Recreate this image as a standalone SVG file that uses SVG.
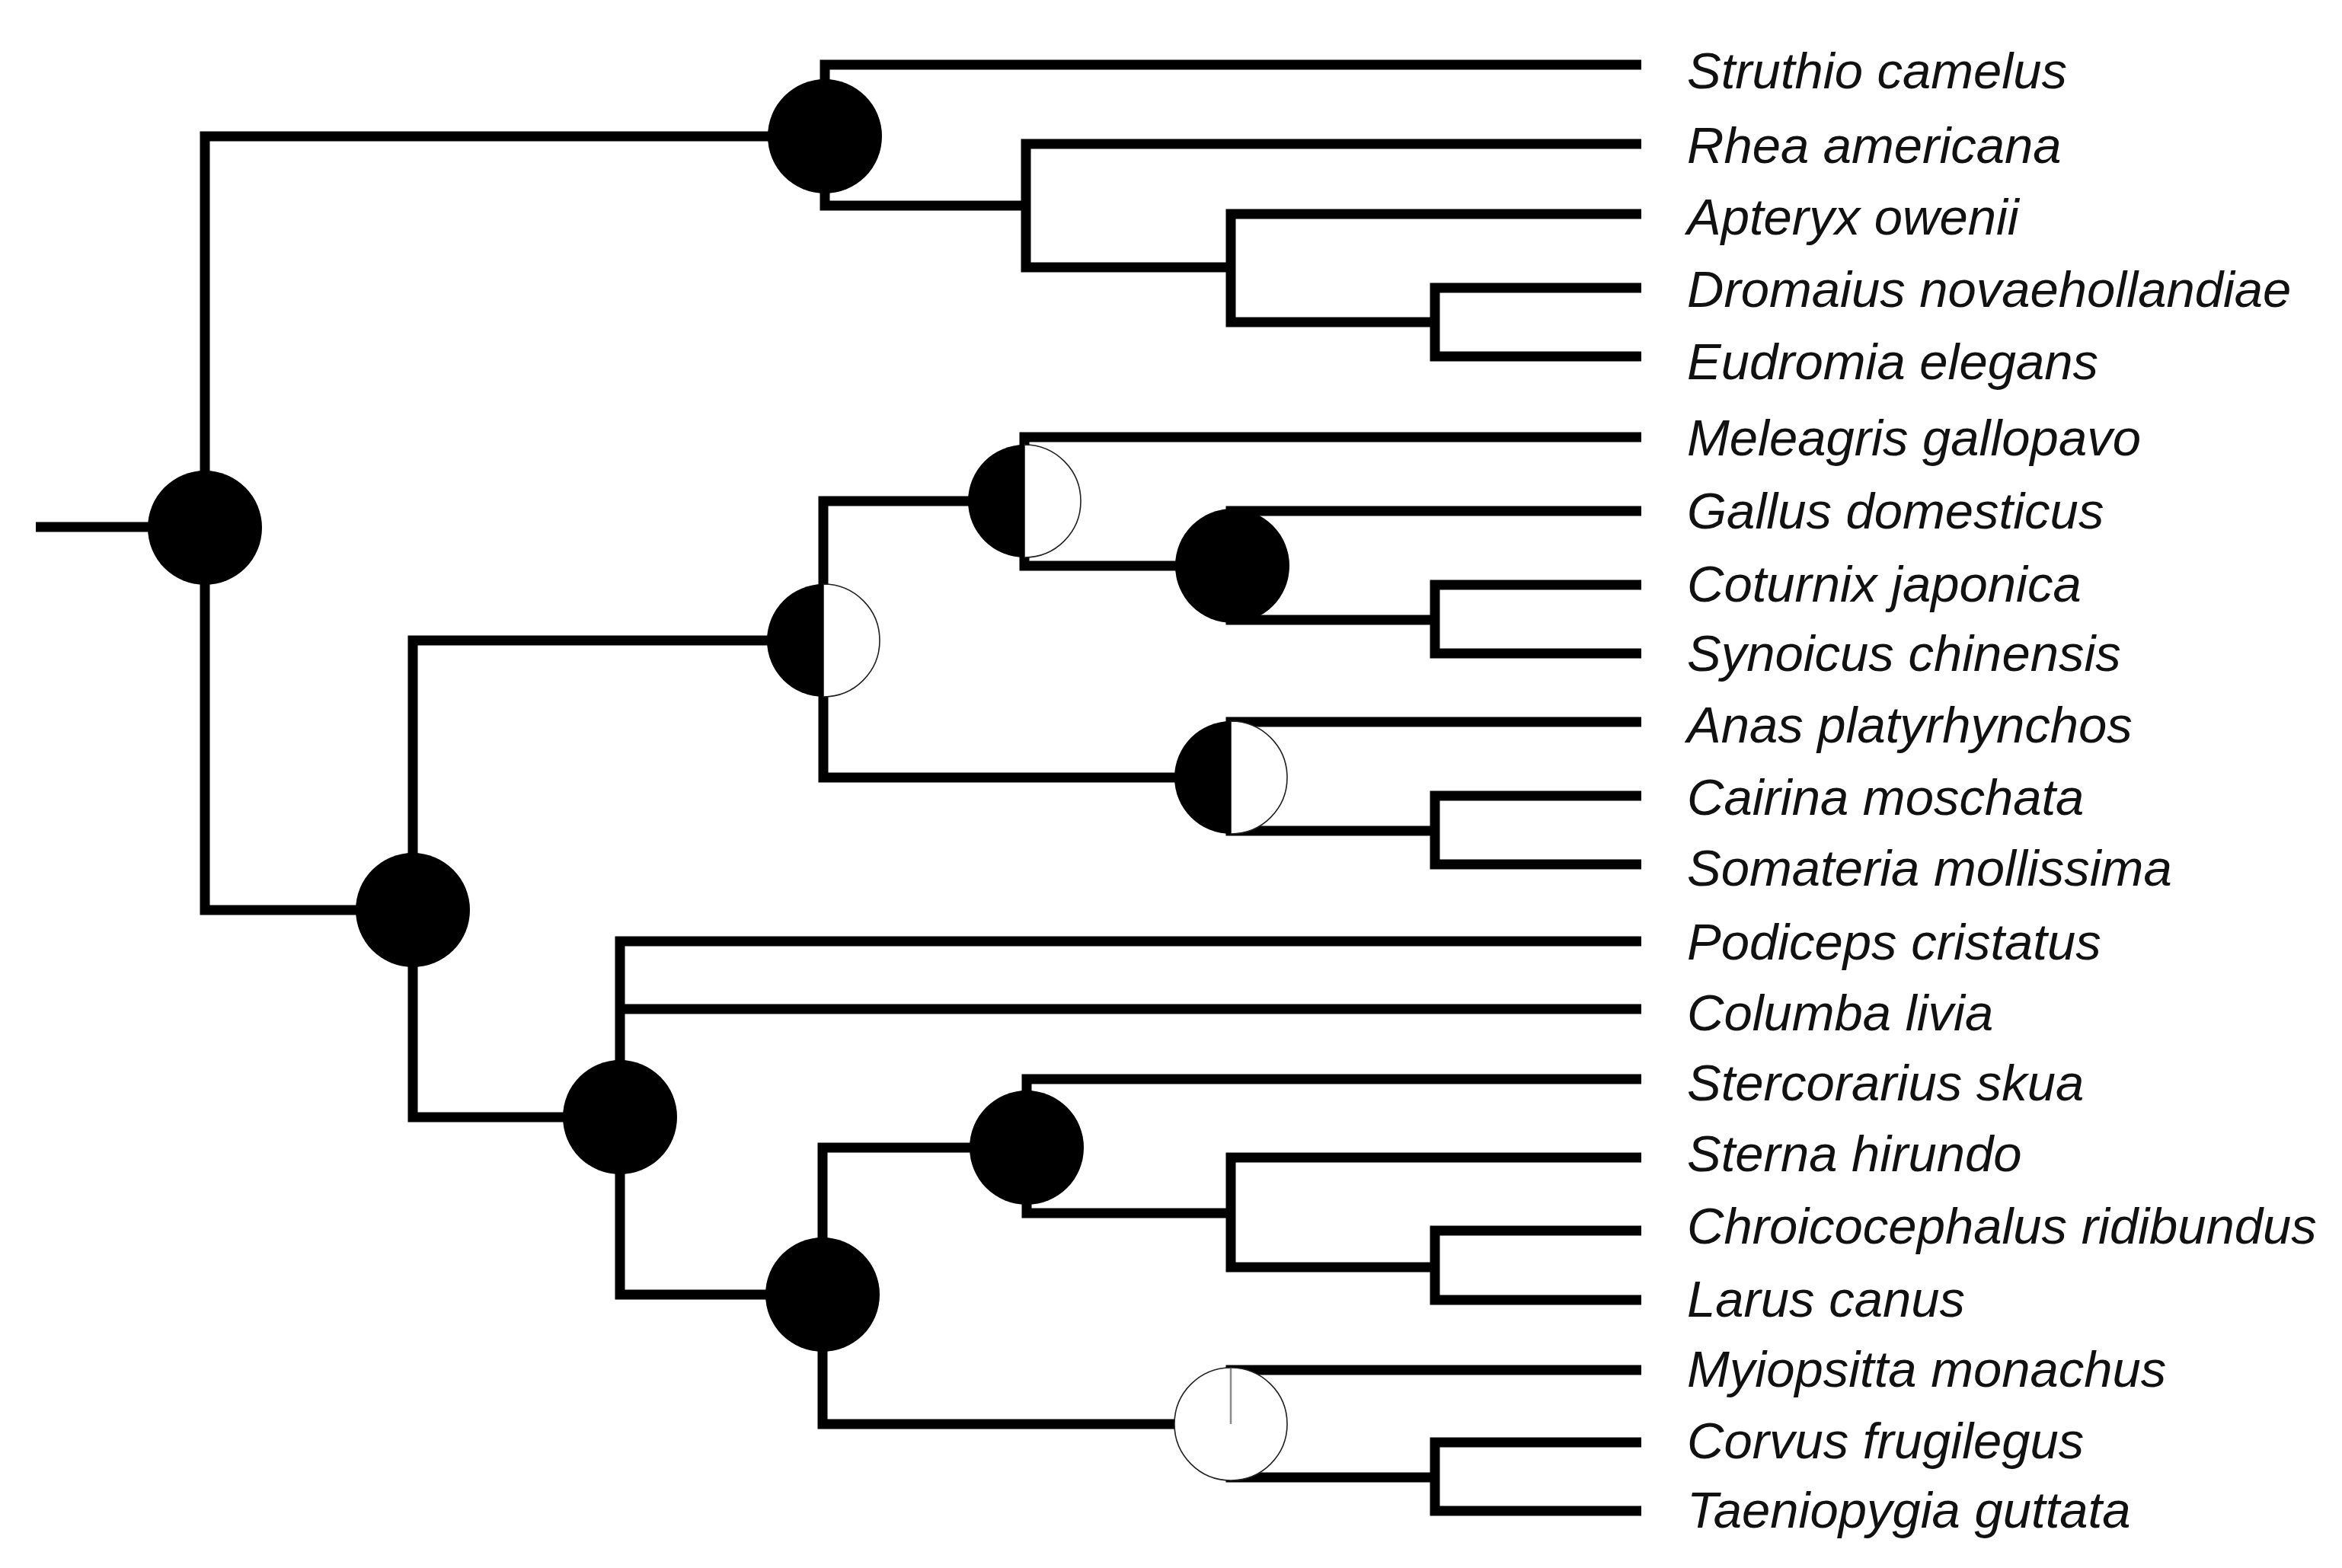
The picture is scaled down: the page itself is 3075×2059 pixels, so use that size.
<svg xmlns="http://www.w3.org/2000/svg" width="3075" height="2059" viewBox="0 0 3075 2059">
<style>
.br{fill:none;stroke:#000;stroke-width:13;stroke-linejoin:miter;stroke-linecap:butt}
.full{fill:#000}
.blk{fill:#000}
.wht{fill:#fff;stroke:#222;stroke-width:1.6}
.tick{stroke:#8a8a8a;stroke-width:2.5}
.tx{font-family:"Liberation Sans",Arial,sans-serif;font-style:italic;font-size:67px;fill:#111}
</style>
<rect width="3075" height="2059" fill="#fff"/>
<g id="connectors">
<path class="br" d="M47,692 H269"/>
<path class="br" d="M1083,179 H269 V1195 H542"/>
<path class="br" d="M2155,85 H1083 V270 H1347"/>
<path class="br" d="M2155,189 H1347 V351 H1616"/>
<path class="br" d="M2155,281 H1616 V423 H1884"/>
<path class="br" d="M2155,378 H1884 V468 H2155"/>
<path class="br" d="M1081,841 H542 V1467 H814"/>
<path class="br" d="M1345,658 H1081 V1021 H1616"/>
<path class="br" d="M2155,574 H1345 V743 H1616"/>
<path class="br" d="M2155,671 H1616 V814 H1884"/>
<path class="br" d="M2155,768 H1884 V858 H2155"/>
<path class="br" d="M2155,948 H1616 V1091 H1884"/>
<path class="br" d="M2155,1045 H1884 V1135 H2155"/>
<path class="br" d="M2155,1236 H814 V1700 H1080"/>
<path class="br" d="M814,1325 H2155"/>
<path class="br" d="M1348,1507 H1080 V1870 H1616"/>
<path class="br" d="M2155,1417 H1348 V1593 H1616"/>
<path class="br" d="M2155,1520 H1616 V1664 H1884"/>
<path class="br" d="M2155,1616 H1884 V1707 H2155"/>
<path class="br" d="M2155,1799 H1616 V1940 H1884"/>
<path class="br" d="M2155,1894 H1884 V1984 H2155"/>
</g>
<g id="node-root"><circle class="full" cx="269" cy="693" r="75"/></g>
<g id="node-palaeognathae"><circle class="full" cx="1083" cy="179" r="75"/></g>
<g id="node-neognathae"><circle class="full" cx="542" cy="1195" r="75"/></g>
<g id="node-galloanserae">
<path class="wht" d="M1081,767 A74,74 0 0 1 1081,915 Z"/>
<path class="blk" d="M1081,767 A74,74 0 0 0 1081,915 Z"/>
</g>
<g id="node-galliformes">
<path class="wht" d="M1345,584 A74,74 0 0 1 1345,732 Z"/>
<path class="blk" d="M1345,584 A74,74 0 0 0 1345,732 Z"/>
</g>
<g id="node-phasianidae"><circle class="full" cx="1618" cy="743" r="75"/></g>
<g id="node-anseriformes">
<path class="wht" d="M1616,947 A74,74 0 0 1 1616,1095 Z"/>
<path class="blk" d="M1616,947 A74,74 0 0 0 1616,1095 Z"/>
</g>
<g id="node-neoaves"><circle class="full" cx="814" cy="1467" r="75"/></g>
<g id="node-c4"><circle class="full" cx="1080" cy="1700" r="75"/></g>
<g id="node-charadriiformes"><circle class="full" cx="1348" cy="1507" r="75"/></g>
<g id="node-passeriformes">
<circle class="wht" cx="1616" cy="1870" r="74"/>
<line class="tick" x1="1616" y1="1870" x2="1616" y2="1797"/>
</g>
<g id="labels">
<text class="tx" x="2215" y="116">Struthio camelus</text>
<text class="tx" x="2215" y="214">Rhea americana</text>
<text class="tx" x="2215" y="308">Apteryx owenii</text>
<text class="tx" x="2215" y="403">Dromaius novaehollandiae</text>
<text class="tx" x="2215" y="498">Eudromia elegans</text>
<text class="tx" x="2215" y="598">Meleagris gallopavo</text>
<text class="tx" x="2215" y="694">Gallus domesticus</text>
<text class="tx" x="2215" y="790">Coturnix japonica</text>
<text class="tx" x="2215" y="881">Synoicus chinensis</text>
<text class="tx" x="2215" y="975">Anas platyrhynchos</text>
<text class="tx" x="2215" y="1070">Cairina moschata</text>
<text class="tx" x="2215" y="1163">Somateria mollissima</text>
<text class="tx" x="2215" y="1260">Podiceps cristatus</text>
<text class="tx" x="2215" y="1353">Columba livia</text>
<text class="tx" x="2215" y="1445">Stercorarius skua</text>
<text class="tx" x="2215" y="1538">Sterna hirundo</text>
<text class="tx" x="2215" y="1633">Chroicocephalus ridibundus</text>
<text class="tx" x="2215" y="1729">Larus canus</text>
<text class="tx" x="2215" y="1821">Myiopsitta monachus</text>
<text class="tx" x="2215" y="1915">Corvus frugilegus</text>
<text class="tx" x="2215" y="2006">Taeniopygia guttata</text>
</g>
</svg>
